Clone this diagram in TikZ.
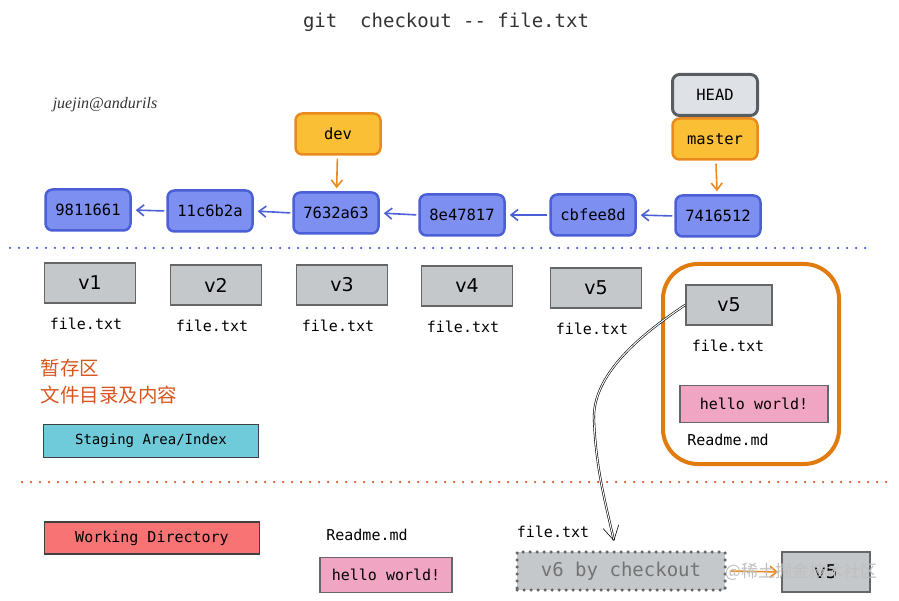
\documentclass[tikz,border=0pt]{standalone}
\usepackage{fontspec}
\setmainfont{DejaVu Sans}
\setmonofont{DejaVu Sans Mono}
\newfontfamily\cjkfont{Noto Sans CJK SC}
\newfontfamily\handfont{Liberation Serif}
\usetikzlibrary{arrows.meta}

\definecolor{commitfill}{HTML}{7D8FF0}
\definecolor{commitline}{HTML}{4B5FD6}
\definecolor{branchfill}{HTML}{FBBF35}
\definecolor{branchline}{HTML}{E98A1E}
\definecolor{headfill}{HTML}{DEE2E6}
\definecolor{headline}{HTML}{585D62}
\definecolor{filefill}{HTML}{C5C8CB}
\definecolor{fileline}{HTML}{666666}
\definecolor{pinkfill}{HTML}{F0A6C2}
\definecolor{stagefill}{HTML}{6FCAD9}
\definecolor{workfill}{HTML}{F87474}
\definecolor{stageline}{HTML}{E27B0E}
\definecolor{cntext}{HTML}{D9561E}
\definecolor{titlegray}{HTML}{333333}

\tikzset{
    commit/.style={draw=commitline, fill=commitfill, line width=2.5pt, rounded corners=7pt,
        minimum width=85pt, minimum height=41pt, inner sep=0pt,
        font=\ttfamily\fontsize{15.5}{18}\selectfont},
    branch/.style={commit, draw=branchline, fill=branchfill},
    headbox/.style={commit, draw=headline, fill=headfill, line width=3pt},
    filebox/.style={draw=fileline, fill=filefill, line width=1.6pt, minimum width=91pt,
        minimum height=40pt, inner sep=0pt, font=\fontsize{19}{22}\selectfont},
    fname/.style={font=\ttfamily\fontsize{15}{18}\selectfont},
    pinkbox/.style={draw=fileline, fill=pinkfill, line width=1.4pt, minimum width=148pt,
        minimum height=37pt, inner sep=0pt, font=\ttfamily\fontsize{15}{18}\selectfont},
    tagbox/.style={draw=black!75, line width=1.2pt, minimum width=215pt, minimum height=33pt,
        inner sep=0pt, font=\ttfamily\fontsize{14}{17}\selectfont},
    commitarrow/.style={-{Straight Barb[length=7pt,width=11pt]}, draw=commitline, line width=1.6pt,
        shorten <=2pt, shorten >=4pt},
    brancharrow/.style={-{Straight Barb[length=7pt,width=11pt]}, draw=branchline, line width=1.6pt,
        shorten <=3pt, shorten >=3pt}
}

\begin{document}
\begin{tikzpicture}[x=1pt, y=-1pt]
    \useasboundingbox (0,0) rectangle (899,601);

    % Title
    \node[text=titlegray, font=\ttfamily\fontsize{19}{22}\selectfont] (title) at (446,22)
        {git\ \ checkout -{}- file.txt};
    \node[text=black!80, font=\handfont\itshape\fontsize{16}{18}\selectfont] (sign) at (105,105)
        {juejin@andurils};

    % Commits
    \foreach \name/\hash/\x/\y in {c1/9811661/88/210, c2/11c6b2a/210/211, c3/7632a63/336/213,
        c4/8e47817/462/215, c5/cbfee8d/593/215, c6/7416512/718/216}
        \node[commit] (\name) at (\x,\y) {\hash};
    \foreach \a/\b in {c2/c1, c3/c2, c4/c3, c5/c4, c6/c5}
        \draw[commitarrow] (\a.west) -- (\b.east);

    % Branches
    \node[branch] (dev) at (338,134) {dev};
    \node[headbox] (head) at (715,95) {HEAD};
    \node[branch] (master) at (715,139) {master};
    \draw[brancharrow] (dev) -- (c3);
    \draw[brancharrow] (master) -- (c6);

    % Separators
    \draw[commitline, line width=2.5pt, line cap=round, dash pattern=on 0pt off 9pt] (10,248) -- (870,248);
    \draw[cntext, line width=2.5pt, line cap=round, dash pattern=on 0pt off 9pt] (22,482) -- (890,482);

    % Staging area
    \foreach \i/\x/\y in {1/90/283, 2/216/285, 3/342/285, 4/467/286, 5/596/288}
    {
        \node[filebox] (v\i) at (\x,\y) {v\i};
        \node[fname] (f\i) at (\x-4,\y+41) {file.txt};
    }
    \node[draw=stageline, line width=4pt, rounded corners=35pt, minimum width=176pt,
        minimum height=200pt] (stagebox) at (751,364) {};
    \node[filebox, minimum width=86pt] (sv5) at (729,305) {v5};
    \node[fname] (sfile) at (728,346) {file.txt};
    \node[pinkbox] (shello) at (754,404) {hello world!};
    \node[fname] (sreadme) at (728,440) {Readme.md};

    \node[anchor=west, text=cntext, font=\cjkfont\fontsize{19.5}{22}\selectfont] (zh1) at (37,368) {暂存区};
    \node[anchor=west, text=cntext, font=\cjkfont\fontsize{19.5}{22}\selectfont] (zh2) at (37,395) {文件目录及内容};
    \node[tagbox, fill=stagefill] (staging) at (151,441) {Staging Area/Index};

    % Working directory
    \node[tagbox, fill=workfill, minimum height=32pt, font=\ttfamily\fontsize{15}{18}\selectfont]
        (working) at (152,538) {Working Directory};
    \node[fname] (wreadme) at (367,535) {Readme.md};
    \node[pinkbox, minimum width=132pt, minimum height=35pt] (whello) at (386,575) {hello world!};
    \node[fname] (wfile) at (553,532) {file.txt};
    \node[fill=filefill, draw=fileline, line width=3.5pt, line cap=round, dash pattern=on 0pt off 7pt,
        minimum width=208pt, minimum height=38pt, inner sep=0pt, text=black!55,
        font=\ttfamily\fontsize{19}{22}\selectfont] (v6) at (621,571) {v6 by checkout};
    \node[filebox, minimum width=88pt] (wv5) at (826,572) {v5};
    \draw[brancharrow] (v6.east) -- (wv5.west);
    \node[text=black!25, font=\cjkfont\fontsize{17}{20}\selectfont] (mark) at (801,572) {@稀土掘金技术社区};

    % Checkout
    \coordinate (tip) at (614,541);
    \draw[black, line width=0.6pt, double=white, double distance=1pt,
        -{Straight Barb[length=14pt,width=16pt]}]
        (sv5.west) .. controls (640,335) and (592,375) .. (594,420)
        .. controls (596,470) and (606,505) .. (tip);
\end{tikzpicture}
\end{document}
